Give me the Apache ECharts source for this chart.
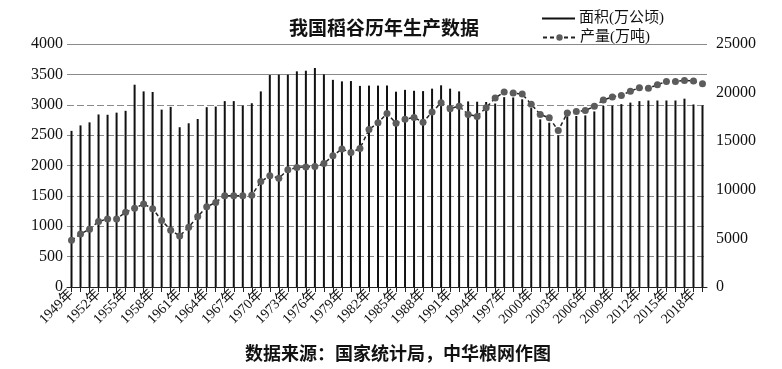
<!DOCTYPE html>
<html>
<head>
<meta charset="utf-8">
<script src="https://cdn.jsdelivr.net/npm/echarts@6/dist/echarts.min.js"></script>
<style>
html,body{margin:0;padding:0;background:#fff;}
#chart{width:782px;height:369px;}
</style>
</head>
<body>
<div id="chart"></div>
<script>
// categories
var years = [];
for (var y = 1949; y <= 2019; y++) { years.push(y + '年'); }

// 面积(万公顷)
var areaValues = [
  2570, 2660, 2710, 2840, 2835, 2870, 2900, 3330, 3220, 3210,
  2920, 2965, 2630, 2695, 2765, 2960, 2970, 3060, 3060, 2985,
  3025, 3220, 3490, 3495, 3495, 3550, 3560, 3605, 3500, 3410,
  3385, 3390, 3310, 3315, 3315, 3315, 3215, 3245, 3230, 3225,
  3265, 3320, 3265, 3220, 3055, 3050, 3045, 3020, 3125, 3120,
  3090, 2945, 2760, 2705, 2495, 2810, 2815, 2825, 2890, 2980,
  2985, 3010, 3035, 3060, 3070, 3070, 3070, 3070, 3100, 3005,
  2990
];

// 产量(万吨)
var outputValues = [
  4800, 5450, 5950, 6750, 7000, 7000, 7700, 8100, 8550, 8050,
  6850, 5850, 5250, 6150, 7250, 8250, 8700, 9400, 9400, 9400,
  9450, 10850, 11450, 11200, 12050, 12300, 12350, 12400, 12700, 13500,
  14200, 13850, 14250, 16200, 16900, 17850, 16850, 17250, 17450, 16950,
  18000, 18950, 18350, 18600, 17750, 17550, 18450, 19450, 20050, 19950,
  19850, 18800, 17750, 17400, 16100, 17900, 18050, 18150, 18600, 19250,
  19550, 19700, 20150, 20500, 20450, 20800, 21150, 21150, 21250, 21200,
  20900
];

var leftTicks = { min: 0, max: 4000, interval: 500 };
var rightTicks = { min: 0, max: 25000, interval: 5000 };

var serif = '"Liberation Serif", "Noto Sans CJK SC", serif';
var cjk = '"Liberation Serif", "Noto Sans CJK SC", sans-serif';
function plain(v) { return String(v); }

var chart = echarts.init(document.getElementById('chart'), null, { renderer: 'canvas' });
chart.setOption({
  backgroundColor: '#fff',
  animation: false,
  title: [
    {
      text: '我国稻谷历年生产数据',
      left: 379, top: 16, textAlign: 'center',
      textStyle: { fontFamily: cjk, fontSize: 19, fontWeight: 'bold', color: '#111' }
    },
    {
      text: '数据来源：国家统计局，中华粮网作图',
      left: 393, top: 341, textAlign: 'center',
      textStyle: { fontFamily: cjk, fontSize: 18, fontWeight: 'bold', color: '#111' }
    }
  ],
  legend: [
    {
      data: [{ name: '面积(万公顷)', icon: 'rect' }],
      left: 537, top: 6, itemWidth: 33, itemHeight: 2, itemGap: 0,
      textStyle: { fontFamily: cjk, fontSize: 15, color: '#111', padding: [0,0,0,-1] }
    },
    {
      data: ['产量(万吨)'],
      left: 537, top: 25, itemWidth: 33, itemHeight: 8, itemGap: 0,
      textStyle: { fontFamily: cjk, fontSize: 15, color: '#111', padding: [0,0,0,-1] }
    }
  ],
  grid: { left: 67, right: 75, top: 44, bottom: 82, containLabel: false },
  xAxis: {
    type: 'category',
    data: years,
    boundaryGap: true,
    axisLine: { show: true, lineStyle: { color: '#222', width: 1 } },
    axisTick: { show: true, interval: 0, alignWithLabel: true, length: 5, lineStyle: { color: '#222' } },
    axisLabel: {
      interval: 2, rotate: 45, margin: 5,
      fontFamily: serif, fontSize: 14, color: '#111'
    }
  },
  yAxis: [
    {
      type: 'value',
      min: leftTicks.min, max: leftTicks.max, interval: leftTicks.interval,
      axisLine: { show: false }, axisTick: { show: false },
      axisLabel: { fontFamily: serif, fontSize: 16, color: '#111', margin: 4, formatter: plain },
      splitLine: { show: true, lineStyle: { color: '#8a8a8a', type: [7, 3], width: 1 } }
    },
    {
      type: 'value',
      min: rightTicks.min, max: rightTicks.max, interval: rightTicks.interval,
      axisLine: { show: false }, axisTick: { show: false },
      axisLabel: { fontFamily: serif, fontSize: 16, color: '#111', margin: 9, formatter: plain },
      splitLine: { show: false }
    }
  ],
  series: [
    {
      name: '面积(万公顷)',
      type: 'bar',
      yAxisIndex: 0,
      data: areaValues,
      barWidth: 2,
      itemStyle: { color: '#111' },
      markLine: {
        silent: true, symbol: 'none', label: { show: false },
        lineStyle: { color: '#8a8a8a', type: 'solid', width: 1.2 },
        data: [{ yAxis: 4000 }, { yAxis: 3500 }],
        z: 1
      }
    },
    {
      name: '产量(万吨)',
      type: 'line',
      yAxisIndex: 1,
      data: outputValues,
      symbol: 'circle',
      symbolSize: 7,
      showAllSymbol: true,
      itemStyle: { color: '#5c5c5c', borderWidth: 0 },
      lineStyle: { color: '#222', width: 1.5, type: [4, 3] },
      z: 5
    }
  ]
});
</script>
</body>
</html>
